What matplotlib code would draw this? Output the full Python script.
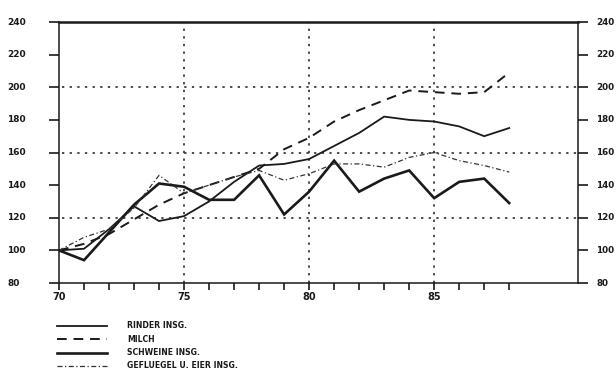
import matplotlib
matplotlib.use("Agg")
import matplotlib.pyplot as plt
from matplotlib.lines import Line2D
import matplotlib.transforms as mtransforms

# Index values (1970 = 100)
years = list(range(70, 89))
rinder = [100, 101, 113, 127, 118, 121, 130, 142, 152, 153, 156, 164, 172, 182, 180, 179, 176, 170, 175]
milch = [100, 104, 110, 119, 128, 135, 140, 145, 150, 162, 169, 179, 186, 192, 198, 197, 196, 197, 209]
schweine = [100, 94, 111, 128, 141, 139, 131, 131, 146, 122, 136, 155, 136, 144, 149, 132, 142, 144, 129]
gefluegel = [100, 108, 113, 126, 146, 135, 140, 145, 149, 143, 147, 153, 153, 151, 157, 160, 155, 152, 148]

series_labels = ["RINDER INSG.", "MILCH", "SCHWEINE INSG.", "GEFLUEGEL U. EIER INSG."]
y_ticks = [80, 100, 120, 140, 160, 180, 200, 220, 240]
y_grid = [120, 160, 200]
x_major = [70, 75, 80, 85]
x_grid = [75, 80, 85]

W, H = 616, 386
fig = plt.figure(figsize=(W / 100, H / 100), dpi=100)
ax = fig.add_axes([59 / W, 1 - 283 / H, (578 - 59) / W, (283 - 22) / H])

ink = "#1a1a1a"
styles = [
    dict(color=ink, lw=1.3, ls="-"),
    dict(color=ink, lw=1.4, ls=(0, (5, 3.5))),
    dict(color=ink, lw=1.9, ls="-"),
    dict(color="#333333", lw=0.9, ls=(0, (4, 2, 1, 2))),
]

for vals, st in zip([rinder, milch, schweine, gefluegel], styles):
    ax.plot(years, vals, **st, solid_joinstyle="miter")

grid_style = dict(color=ink, lw=1.1, ls=(0, (1.5, 3.5)))
for g in y_grid:
    ax.axhline(g, xmin=0.006, **grid_style, zorder=0)
for g in x_grid:
    ax.axvline(g, **grid_style, zorder=0)

ax.set_xlim(70, 90.75)
ax.set_ylim(80, 240)

ax.set_xticks(x_major)
ax.set_xticklabels([str(v) for v in x_major], fontsize=7, fontweight="bold",
                   color=ink)
ax.set_xticks(years, minor=True)
ax.tick_params(axis="x", which="both", direction="out", length=5, width=1.2,
               colors=ink, pad=1.5)

ax.set_yticks(y_ticks)
ax.set_yticklabels([])
ax.tick_params(axis="y", which="major", direction="out", length=7, width=1.2,
               left=True, right=True, colors=ink)

# Tick values on both sides, left-aligned in their columns
trans_l = mtransforms.blended_transform_factory(ax.transAxes, ax.transData)
for v in y_ticks:
    ax.text(-0.100, v, str(v), transform=trans_l, ha="left", va="center",
            fontsize=6.5, fontweight="bold", color=ink)
    ax.text(1.0355, v, str(v), transform=trans_l, ha="left", va="center",
            fontsize=6.3, fontweight="bold", color=ink, clip_on=False)

for side in ["left", "right", "bottom"]:
    ax.spines[side].set_linewidth(1.1)
    ax.spines[side].set_color(ink)
ax.spines["top"].set_linewidth(1.8)
ax.spines["top"].set_color(ink)

# Legend below the plot
for i, (lab, st) in enumerate(zip(series_labels, styles)):
    yy = 1 - (326 + i * 13.3) / H
    fig.add_artist(Line2D([57 / W, 107 / W], [yy, yy], transform=fig.transFigure, **st))
    fig.text(127 / W, yy, lab, ha="left", va="center", fontsize=5.6,
             fontweight="bold", color=ink)

fig.savefig("out.png", dpi=100, facecolor="white")
